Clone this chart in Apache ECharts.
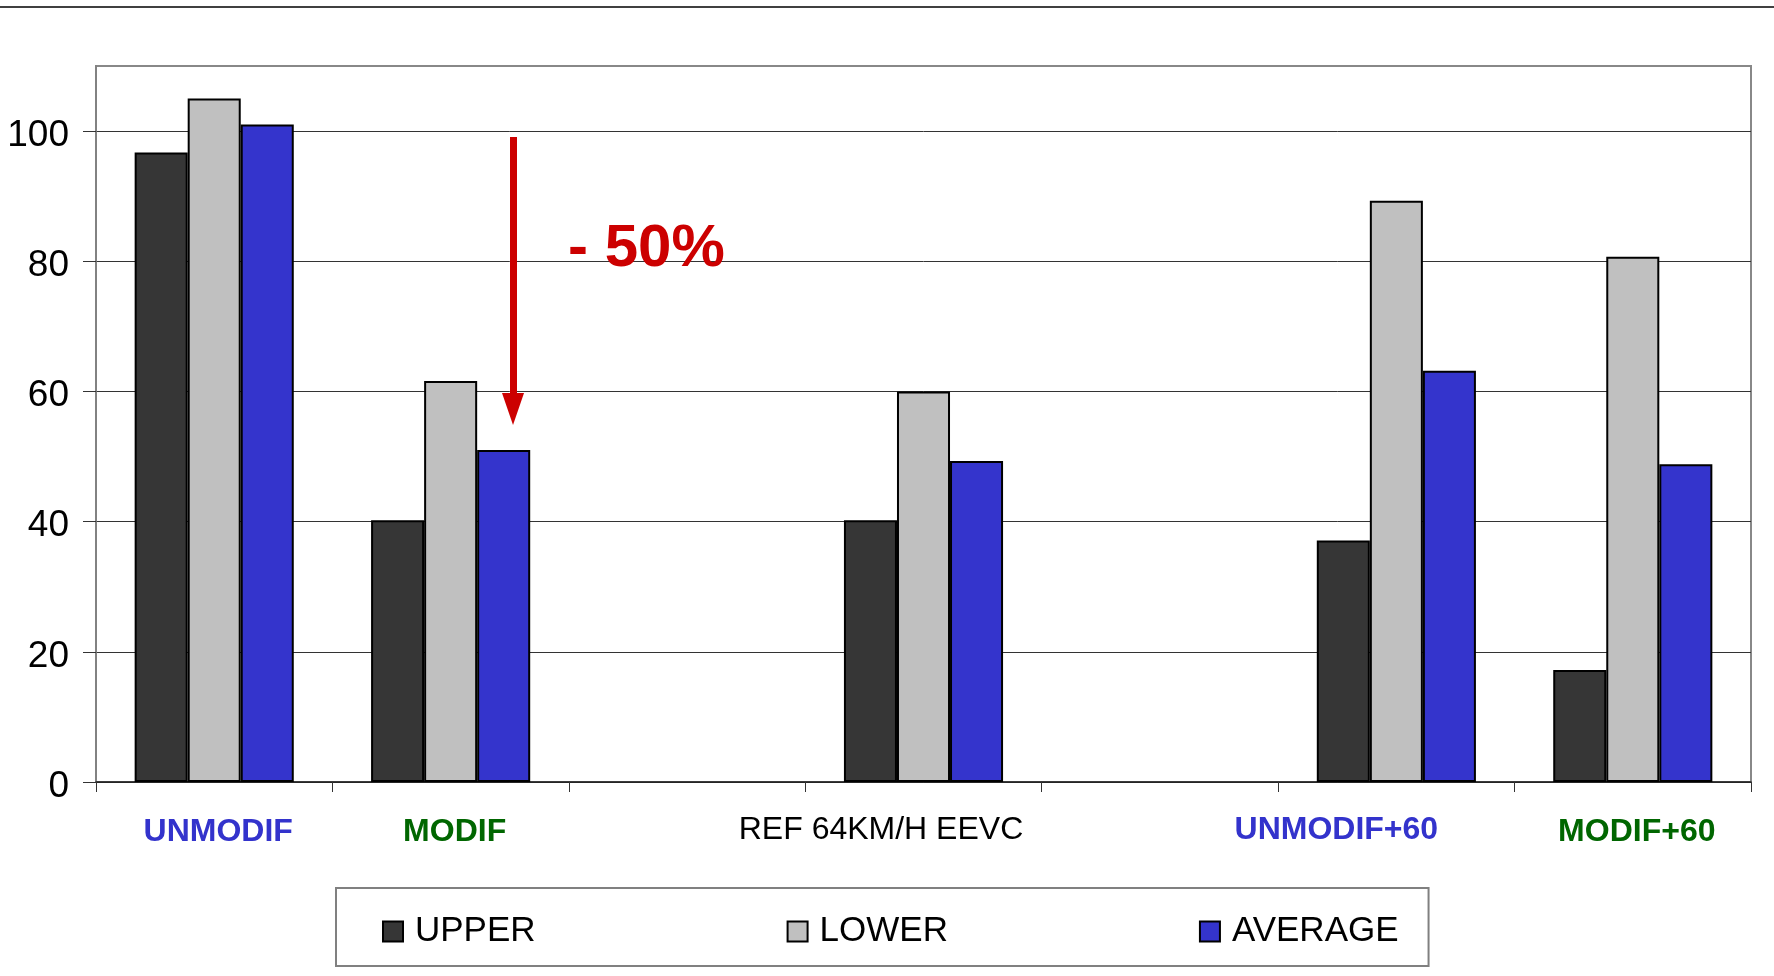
<!DOCTYPE html>
<html>
<head>
<meta charset="utf-8">
<script src="https://cdn.jsdelivr.net/npm/echarts@6/dist/echarts.min.js"></script>
<style>
html,body{margin:0;padding:0;background:#fff;}
#chart{width:1774px;height:976px;}
</style>
</head>
<body>
<div id="chart"></div>
<script>
const categories = ['UNMODIF', 'MODIF', '', 'REF 64KM/H EEVC', '', 'UNMODIF+60', 'MODIF+60'];
const upper   = [96.7, 40.2, null, 40.2, null, 37.1, 17.2];
const lower   = [105.0, 61.6, null, 60.0, null, 89.3, 80.7];
const average = [101.0, 51.0, null, 49.3, null, 63.2, 48.8];
const yTicks  = [0, 20, 40, 60, 80, 100];
const seriesNames = ['UPPER', 'LOWER', 'AVERAGE'];

const labelStyleKey = {
  'UNMODIF': 'ub', 'MODIF': 'gb', 'REF 64KM/H EEVC': 'ref',
  'UNMODIF+60': 'ub60', 'MODIF+60': 'gb60'
};

const chart = echarts.init(document.getElementById('chart'));
const font = 'Liberation Sans, Arial, sans-serif';

function bar(name, data, color) {
  return {
    name: name, type: 'bar', data: data,
    barGap: '0%', barCategoryGap: '32.7%',
    itemStyle: { color: color, borderColor: '#000', borderWidth: 2 },
    emphasis: { disabled: true }
  };
}

chart.setOption({
  animation: false,
  textStyle: { fontFamily: font },
  grid: {
    left: 96, right: 23, top: 66, bottom: 194,
    show: true, borderColor: '#888', borderWidth: 2, backgroundColor: 'transparent'
  },
  legend: {
    left: 336, top: 888,
    padding: [26, 30, 17, 46],
    itemGap: 251, itemWidth: 20, itemHeight: 20,
    icon: 'rect',
    borderColor: '#808080', borderWidth: 2,
    textStyle: { fontSize: 35, color: '#000', fontFamily: font, padding: [0, 0, 0, 7] },
    data: seriesNames
  },
  xAxis: {
    type: 'category', data: categories,
    axisLine: { lineStyle: { color: '#222', width: 1.5 } },
    axisTick: { show: true, length: 10, lineStyle: { color: '#333' } },
    axisLabel: {
      interval: 0, margin: 32,
      formatter: function (v) { return v ? '{' + labelStyleKey[v] + '|' + v + '}' : ''; },
      rich: {
        ub:   { fontSize: 32, fontWeight: 'bold', color: '#3333CC', padding: [2, 0, 0, 8], fontFamily: font },
        gb:   { fontSize: 32, fontWeight: 'bold', color: '#006600', padding: [2, 0, 0, 8], fontFamily: font },
        ref:  { fontSize: 32, color: '#000', padding: [0, 85, 0, 0], fontFamily: font },
        ub60: { fontSize: 32, fontWeight: 'bold', color: '#3333CC', padding: [0, 120, 0, 0], fontFamily: font },
        gb60: { fontSize: 32, fontWeight: 'bold', color: '#006600', padding: [2, 0, 0, 8], fontFamily: font }
      }
    },
    splitLine: { show: false }
  },
  yAxis: {
    type: 'value', min: 0, max: 110, interval: 20,
    axisLine: { show: true, lineStyle: { color: '#808080', width: 1.5 } },
    axisTick: { show: true, length: 13, customValues: yTicks, lineStyle: { color: '#333' } },
    axisLabel: {
      margin: 27, customValues: yTicks,
      formatter: function (v) { return '{n|' + v + '}'; },
      rich: { n: { fontSize: 37, color: '#000', padding: [9, 0, 0, 0], fontFamily: font } }
    },
    splitLine: { show: true, lineStyle: { color: ['#333', '#333', '#333', '#333', '#333', '#333', '#888'], width: 1 } }
  },
  series: [
    bar('UPPER', upper, '#363636'),
    bar('LOWER', lower, '#C0C0C0'),
    bar('AVERAGE', average, '#3434CC')
  ],
  graphic: [
    { type: 'line', shape: { x1: 0, y1: 7, x2: 1774, y2: 7 }, style: { stroke: '#000', lineWidth: 1.5 } },
    { type: 'rect', shape: { x: 510, y: 137, width: 7, height: 260 }, style: { fill: '#CC0000' }, z: 10 },
    { type: 'polygon', shape: { points: [[502, 393], [524, 393], [513, 425]] }, style: { fill: '#CC0000' }, z: 10 },
    { type: 'text', x: 568, y: 249, style: { text: '- 50%', fill: '#CC0000', font: 'bold 60px Liberation Sans, Arial, sans-serif', verticalAlign: 'middle', align: 'left' }, z: 10 }
  ]
});
</script>
</body>
</html>
